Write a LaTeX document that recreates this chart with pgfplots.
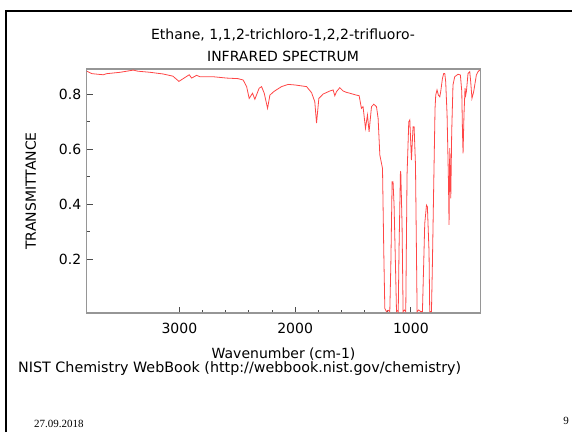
\documentclass[border=0pt]{standalone}
\usepackage{pgfplots}
\pgfplotsset{compat=1.18}
\usepackage{fontspec}
\setmainfont{DejaVu Sans}
\newfontfamily\timesfont{Liberation Serif}
\definecolor{spec}{RGB}{255,70,70}
\definecolor{frame}{RGB}{150,150,150}
\pgfplotstableread{
wn T
3800 0.884
3755 0.875
3657 0.871
3628 0.875
3513 0.880
3398 0.888
3358 0.884
3254 0.880
3142 0.874
3056 0.866
3004 0.847
2967 0.857
2915 0.871
2894 0.859
2851 0.869
2823 0.864
2710 0.864
2592 0.859
2494 0.857
2449 0.852
2419 0.828
2397 0.785
2368 0.804
2348 0.782
2311 0.822
2290 0.828
2267 0.804
2238 0.749
2218 0.797
2184 0.810
2155 0.818
2117 0.828
2060 0.836
2002 0.834
1901 0.828
1858 0.806
1830 0.773
1815 0.695
1795 0.785
1758 0.801
1700 0.812
1672 0.816
1657 0.795
1642 0.810
1614 0.824
1585 0.812
1556 0.807
1528 0.804
1470 0.797
1447 0.795
1427 0.749
1413 0.755
1392 0.676
1375 0.725
1361 0.664
1340 0.755
1320 0.764
1297 0.755
1283 0.713
1268 0.579
1245 0.531
1234 0.228
1225 0.022
1211 0.010
1196 0.015
1182 0.010
1173 0.179
1162 0.482
1154 0.482
1145 0.397
1133 0.179
1124 0.010
1115 0.014
1109 0.010
1102 0.241
1090 0.519
1087 0.518
1076 0.325
1067 0.010
1056 0.016
1044 0.010
1033 0.506
1018 0.700
1009 0.707
995 0.561
981 0.682
972 0.682
960 0.543
946 0.010
932 0.016
915 0.010
900 0.010
880 0.330
865 0.397
857 0.391
843 0.228
837 0.010
822 0.010
814 0.179
802 0.482
791 0.749
785 0.797
774 0.816
762 0.797
750 0.791
742 0.810
727 0.858
716 0.876
707 0.876
699 0.846
687 0.725
675 0.482
670 0.325
664 0.604
655 0.422
647 0.664
636 0.834
621 0.864
592 0.873
572 0.870
560 0.810
554 0.664
549 0.585
541 0.725
532 0.822
526 0.797
520 0.810
506 0.876
491 0.882
483 0.846
472 0.785
457 0.810
434 0.870
420 0.882
405 0.888
}\spectrum
\begin{document}
\begin{tikzpicture}
\path[use as bounding box] (0pt,0pt) rectangle (572pt,432pt);
\draw[line width=2pt] (6pt,0pt) -- (6pt,421pt) -- (572pt,421pt);
\begin{axis}[
  at={(86.8pt,119pt)}, anchor=south west,
  width=393.5pt, height=244pt, scale only axis,
  x dir=reverse,
  xmin=400, xmax=3800, ymin=0.005, ymax=0.892,
  xtick={1000,2000,3000}, minor x tick num=4,
  ytick={0.2,0.4,0.6,0.8}, minor y tick num=1,
  xtick pos=bottom, ytick pos=left,
  tick align=inside,
  major tick length=6pt, minor tick length=3.5pt,
  axis line style={frame, line width=1.2pt},
  every tick/.style={black!70, line width=0.8pt},
  tick label style={font=\fontsize{14}{16}\selectfont},
  /pgf/number format/assume math mode=true,
  /pgf/number format/fixed,
  /pgf/number format/1000 sep={},
  /pgf/number format/precision=1,
  xticklabel style={yshift=-7pt},
  yticklabel style={xshift=-2pt},
  xlabel={Wavenumber (cm-1)},
  ylabel={TRANSMITTANCE},
  label style={font=\fontsize{14}{16}\selectfont},
  xlabel style={yshift=-7pt},
  ylabel style={yshift=16pt},
]
\addplot[spec, line width=0.8pt, no marks] table[x=wn, y=T] {\spectrum};
\end{axis}
\node[font=\fontsize{14}{16}\selectfont] at (283pt,397pt) {Ethane, 1,1,2-trichloro-1,2,2-trifluoro-};
\node[font=\fontsize{14}{16}\selectfont] at (283pt,376pt) {INFRARED SPECTRUM};
\node[font=\fontsize{14.3}{16}\selectfont, anchor=west, inner sep=0pt] at (18pt,63pt) {NIST Chemistry WebBook (http://webbook.nist.gov/chemistry)};
\node[font=\timesfont\fontsize{11}{13}\selectfont, anchor=west, inner sep=0pt] at (34pt,8pt) {27.09.2018};
\node[font=\timesfont\fontsize{11}{13}\selectfont, anchor=east, inner sep=0pt] at (569pt,11pt) {9};
\end{tikzpicture}
\end{document}
